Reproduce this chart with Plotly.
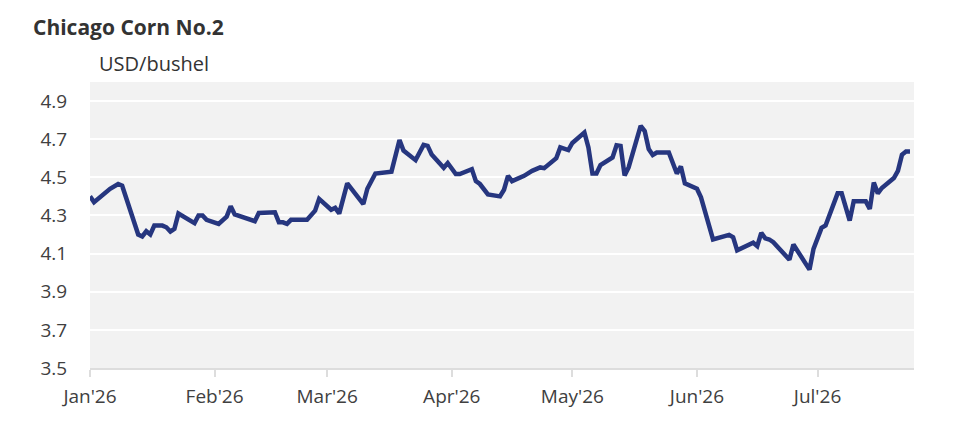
import plotly.graph_objects as go

# Chicago Corn No.2, USD/bushel (2026)
dates = [
    "2026-01-01", "2026-01-02", "2026-01-06", "2026-01-08", "2026-01-09",
    "2026-01-13", "2026-01-14", "2026-01-15", "2026-01-16", "2026-01-17",
    "2026-01-19", "2026-01-20", "2026-01-21", "2026-01-22", "2026-01-23",
    "2026-01-27", "2026-01-28", "2026-01-29", "2026-01-30", "2026-02-02",
    "2026-02-04", "2026-02-05", "2026-02-06", "2026-02-10", "2026-02-11",
    "2026-02-12", "2026-02-16", "2026-02-17", "2026-02-18", "2026-02-19",
    "2026-02-20", "2026-02-24", "2026-02-26", "2026-02-27", "2026-03-02",
    "2026-03-03", "2026-03-04", "2026-03-06", "2026-03-10", "2026-03-11",
    "2026-03-13", "2026-03-17", "2026-03-19", "2026-03-20", "2026-03-23",
    "2026-03-25", "2026-03-26", "2026-03-27", "2026-03-30", "2026-03-31",
    "2026-04-02", "2026-04-03", "2026-04-06", "2026-04-07", "2026-04-08",
    "2026-04-10", "2026-04-13", "2026-04-14", "2026-04-15", "2026-04-16",
    "2026-04-19", "2026-04-21", "2026-04-23", "2026-04-24", "2026-04-27",
    "2026-04-28", "2026-04-30", "2026-05-01", "2026-05-04", "2026-05-05",
    "2026-05-06", "2026-05-07", "2026-05-08", "2026-05-11", "2026-05-12",
    "2026-05-13", "2026-05-14", "2026-05-15", "2026-05-18", "2026-05-19",
    "2026-05-20", "2026-05-21", "2026-05-22", "2026-05-25", "2026-05-27",
    "2026-05-28", "2026-05-29", "2026-06-01", "2026-06-02", "2026-06-05",
    "2026-06-09", "2026-06-10", "2026-06-11", "2026-06-15", "2026-06-16",
    "2026-06-17", "2026-06-18", "2026-06-19", "2026-06-20", "2026-06-24",
    "2026-06-25", "2026-06-29", "2026-06-30", "2026-07-02", "2026-07-03",
    "2026-07-06", "2026-07-07", "2026-07-09", "2026-07-10", "2026-07-13",
    "2026-07-14", "2026-07-15", "2026-07-16", "2026-07-17", "2026-07-20",
    "2026-07-21", "2026-07-22", "2026-07-23", "2026-07-24",
]
prices = [
    4.40, 4.37, 4.44, 4.465, 4.456,
    4.20, 4.19, 4.217, 4.20, 4.247,
    4.247, 4.238, 4.216, 4.23, 4.31,
    4.26, 4.30, 4.30, 4.277, 4.256,
    4.294, 4.348, 4.305, 4.277, 4.27,
    4.313, 4.317, 4.264, 4.264, 4.256,
    4.277, 4.277, 4.325, 4.387, 4.33,
    4.34, 4.31, 4.468, 4.36, 4.44,
    4.52, 4.53, 4.696, 4.64, 4.59,
    4.67, 4.665, 4.62, 4.55, 4.575,
    4.517, 4.517, 4.543, 4.48, 4.465,
    4.41, 4.40, 4.435, 4.508, 4.48,
    4.508, 4.534, 4.552, 4.548, 4.60,
    4.657, 4.643, 4.68, 4.735, 4.657,
    4.52, 4.52, 4.564, 4.604, 4.668,
    4.665, 4.51, 4.552, 4.77, 4.743,
    4.648, 4.617, 4.63, 4.63, 4.52,
    4.557, 4.468, 4.44, 4.395, 4.174,
    4.198, 4.186, 4.117, 4.157, 4.139,
    4.209, 4.18, 4.174, 4.16, 4.068,
    4.148, 4.016, 4.125, 4.235, 4.247,
    4.416, 4.416, 4.273, 4.374, 4.374,
    4.334, 4.473, 4.416, 4.444, 4.496,
    4.534, 4.618, 4.635, 4.635,
]

y_ticks = [3.5, 3.7, 3.9, 4.1, 4.3, 4.5, 4.7, 4.9]
x_ticks = ["2026-01-01", "2026-02-01", "2026-03-01", "2026-04-01",
           "2026-05-01", "2026-06-01", "2026-07-01"]
x_labels = ["Jan'26", "Feb'26", "Mar'26", "Apr'26", "May'26", "Jun'26", "Jul'26"]

fig = go.Figure()
fig.add_trace(go.Scatter(
    x=dates, y=prices, mode="lines",
    line=dict(color="#26367f", width=4.5),
    hoverinfo="x+y", showlegend=False,
))

# page has an 8px body margin, so the figure is 8px smaller and shifted
fig.update_layout(
    width=964, height=435,
    margin=dict(l=82, r=58, t=74, b=75),
    paper_bgcolor="white",
    plot_bgcolor="#f2f2f2",
    font=dict(family="Open Sans", size=19, color="#404040"),
    title=dict(
        text="<b>Chicago Corn No.2</b>",
        font=dict(family="Open Sans", size=21, color="#333333"),
        xref="container", yref="container",
        x=25 / 964, xanchor="left",
        y=1 - 20 / 435, yanchor="middle",
    ),
    annotations=[dict(
        text="USD/bushel", xref="paper", yref="paper",
        x=0.0085, y=1.063, xanchor="left", yanchor="middle",
        showarrow=False, font=dict(family="Open Sans", size=20, color="#333333"),
    )],
)

fig.update_xaxes(
    type="date",
    range=["2026-01-01", "2026-07-25"],
    tickvals=x_ticks, ticktext=x_labels,
    showgrid=False, zeroline=False,
    showline=True, linecolor="#dddddd", linewidth=2,
    ticks="outside", ticklen=7, tickwidth=2, tickcolor="#dddddd",
    ticklabelstandoff=3,
)
fig.update_yaxes(
    range=[3.5, 5.0],
    tickvals=y_ticks, tickformat=".1f",
    showgrid=True, gridcolor="white", gridwidth=2,
    zeroline=False, showline=False,
    ticks="outside", ticklen=18, tickcolor="rgba(0,0,0,0)",
)

fig.write_html("out.html")
